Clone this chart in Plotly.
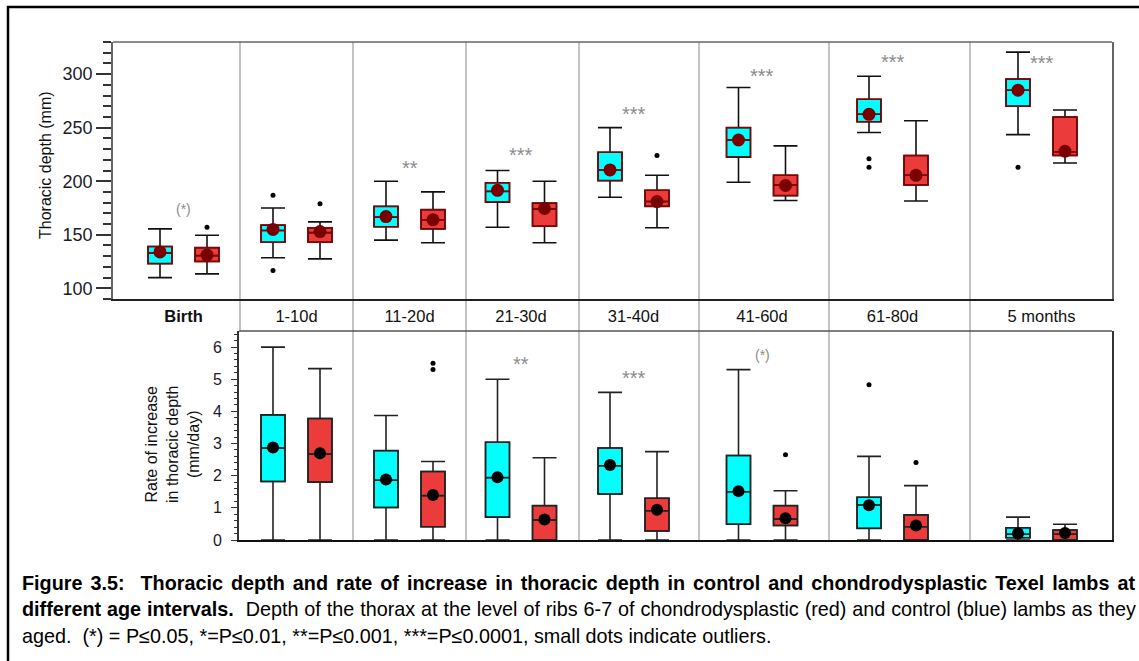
import plotly.graph_objects as go

# ---------------- data ----------------
categories = ["Birth", "1-10d", "11-20d", "21-30d", "31-40d", "41-60d", "61-80d", "5 months"]
rate_categories = categories[1:]

# Thoracic depth (mm) - control (cyan)
ctrl_depth_lo = [110, 128.5, 145, 157, 185, 199, 245.5, 243.5]
ctrl_depth_q1 = [123, 143, 157.5, 180.5, 200.5, 222.5, 255.5, 270]
ctrl_depth_med = [133, 154, 166.5, 190.5, 210.5, 238.5, 262.5, 285]
ctrl_depth_q3 = [139, 159, 176.5, 198.5, 227, 250, 276.5, 295.5]
ctrl_depth_hi = [155.5, 175, 200, 210, 250, 287.5, 298, 320.5]
ctrl_depth_mean = [134, 155, 167, 191.5, 210.5, 238.5, 262.5, 285]
ctrl_depth_out_cat = ["1-10d", "1-10d", "61-80d", "61-80d", "5 months"]
ctrl_depth_out_val = [187, 116.5, 221, 213, 213]

# Thoracic depth (mm) - chondrodysplastic (red)
chon_depth_lo = [113.5, 127.5, 142.5, 142.5, 156.5, 182, 181.5, 217]
chon_depth_q1 = [125, 143, 155.5, 158, 176.5, 186.5, 196.5, 224]
chon_depth_med = [130.5, 152, 164, 174, 181, 196.5, 205.5, 227.5]
chon_depth_q3 = [138, 156.5, 173.5, 179.5, 191.5, 205.5, 224, 260]
chon_depth_hi = [149.5, 162, 190, 200, 205.5, 233, 256.5, 266.5]
chon_depth_mean = [131, 153, 164, 174.5, 181, 196, 205.5, 228]
chon_depth_out_cat = ["Birth", "1-10d", "31-40d"]
chon_depth_out_val = [157, 179, 224]

# Rate of increase (mm/day) - control
ctrl_rate_lo = [0, 0, 0, 0, 0, 0, 0]
ctrl_rate_q1 = [1.82, 1.01, 0.71, 1.43, 0.49, 0.36, 0.07]
ctrl_rate_med = [2.86, 1.86, 1.94, 2.31, 1.50, 1.09, 0.18]
ctrl_rate_q3 = [3.89, 2.78, 3.04, 2.86, 2.63, 1.33, 0.38]
ctrl_rate_hi = [6.0, 3.87, 5.0, 4.59, 5.30, 2.60, 0.71]
ctrl_rate_mean = [2.88, 1.88, 1.95, 2.33, 1.52, 1.08, 0.20]
ctrl_rate_out_cat = ["61-80d"]
ctrl_rate_out_val = [4.83]

# Rate of increase (mm/day) - chondrodysplastic
chon_rate_lo = [0, 0, 0, 0, 0, 0, 0]
chon_rate_q1 = [1.80, 0.41, 0, 0.28, 0.45, 0, 0]
chon_rate_med = [2.67, 1.38, 0.62, 0.91, 0.65, 0.41, 0.18]
chon_rate_q3 = [3.78, 2.13, 1.07, 1.30, 1.07, 0.78, 0.31]
chon_rate_hi = [5.33, 2.44, 2.56, 2.75, 1.53, 1.69, 0.49]
chon_rate_mean = [2.70, 1.40, 0.64, 0.94, 0.68, 0.45, 0.22]
chon_rate_out_cat = ["11-20d", "11-20d", "41-60d", "61-80d"]
chon_rate_out_val = [5.50, 5.30, 2.65, 2.41]

# significance labels
depth_sig_cat = ["Birth", "11-20d", "21-30d", "31-40d", "41-60d", "61-80d", "5 months"]
depth_sig_txt = ["(*)", "**", "***", "***", "***", "***", "***"]
rate_sig_cat = ["21-30d", "31-40d", "41-60d"]
rate_sig_txt = ["**", "***", "(*)"]

# ---------------- layout helpers ----------------
W, H = 1139, 661
group_center = [183.5, 296.5, 409.5, 521, 633.5, 762, 892.5, 1041.5]
separators = [240, 353, 466, 579, 699, 829, 970]
pair_off = 23.5
box_w = 24
depth_sig_y = [174, 212, 224.5, 263, 298, 311, 310]
rate_sig_y = [5.46, 5.05, 5.76]

pos = dict(zip(categories, group_center))
def fx(p): return p / W
def fy(p): return 1 - p / H

CYAN = "#00FFFF"
RED = "#EC3B3B"
DARKRED = "#8B0000"
FONT = "Liberation Sans, Arial, sans-serif"
nb = "\u00a0"

fig = go.Figure()

def add_boxes(cats, lo, q1, med, q3, hi, fill, side, xa, ya, outline, whisk):
    xs = [pos[c] + side * pair_off for c in cats]
    fig.add_trace(go.Box(
        x=xs, q1=q1, median=med, q3=q3, lowerfence=lo, upperfence=hi,
        width=box_w, whiskerwidth=1, fillcolor=fill,
        line=dict(color=whisk, width=1.6), boxpoints=False,
        xaxis=xa, yaxis=ya, showlegend=False, hoverinfo="skip"))
    fig.add_trace(go.Box(
        x=xs, q1=q1, median=med, q3=q3, lowerfence=q1, upperfence=q3,
        width=box_w, whiskerwidth=1, fillcolor="rgba(0,0,0,0)",
        line=dict(color=outline, width=1.4), boxpoints=False,
        xaxis=xa, yaxis=ya, showlegend=False, hoverinfo="skip"))

def add_points(cats, vals, side, xa, ya, color, size):
    fig.add_trace(go.Scatter(
        x=[pos[c] + side * pair_off for c in cats], y=vals, mode="markers",
        marker=dict(color=color, size=size, line=dict(width=0)),
        xaxis=xa, yaxis=ya, showlegend=False, hoverinfo="skip", cliponaxis=False))

add_boxes(categories, ctrl_depth_lo, ctrl_depth_q1, ctrl_depth_med, ctrl_depth_q3, ctrl_depth_hi,
          CYAN, -1, "x", "y", DARKRED, "#111111")
add_boxes(categories, chon_depth_lo, chon_depth_q1, chon_depth_med, chon_depth_q3, chon_depth_hi,
          RED, 1, "x", "y", DARKRED, "#111111")
add_points(categories, ctrl_depth_mean, -1, "x", "y", "#7A0000", 13)
add_points(categories, chon_depth_mean, 1, "x", "y", "#7A0000", 13)
add_points(ctrl_depth_out_cat, ctrl_depth_out_val, -1, "x", "y", "#000000", 5)
add_points(chon_depth_out_cat, chon_depth_out_val, 1, "x", "y", "#000000", 5)

add_boxes(rate_categories, ctrl_rate_lo, ctrl_rate_q1, ctrl_rate_med, ctrl_rate_q3, ctrl_rate_hi,
          CYAN, -1, "x2", "y2", "#222222", "#222222")
add_boxes(rate_categories, chon_rate_lo, chon_rate_q1, chon_rate_med, chon_rate_q3, chon_rate_hi,
          RED, 1, "x2", "y2", "#222222", "#222222")
add_points(rate_categories, ctrl_rate_mean, -1, "x2", "y2", "#000000", 12)
add_points(rate_categories, chon_rate_mean, 1, "x2", "y2", "#000000", 12)
add_points(ctrl_rate_out_cat, ctrl_rate_out_val, -1, "x2", "y2", "#000000", 5)
add_points(chon_rate_out_cat, chon_rate_out_val, 1, "x2", "y2", "#000000", 5)

shapes = []
for i, s in enumerate(separators):
    shapes.append(dict(type="line", xref="x", yref="paper", x0=s, x1=s,
                       y0=fy(42), y1=fy(331 if i == 0 else 540),
                       line=dict(color="#B4B4B4", width=1.6), layer="below"))
shapes.append(dict(type="line", xref="paper", yref="paper", x0=fx(113), x1=fx(1112),
                   y0=fy(42), y1=fy(42), line=dict(color="#666666", width=1.6)))
shapes.append(dict(type="line", xref="paper", yref="paper", x0=fx(239), x1=fx(1112),
                   y0=fy(331), y1=fy(331), line=dict(color="#555555", width=1.6)))
shapes.append(dict(type="rect", xref="paper", yref="paper", x0=fx(8), x1=1.02,
                   y0=-0.02, y1=fy(7), line=dict(color="#000000", width=2.5)))

annotations = []
for c, t, yv in zip(depth_sig_cat, depth_sig_txt, depth_sig_y):
    annotations.append(dict(x=pos[c], y=yv, xref="x", yref="y", text=t, showarrow=False,
                            font=dict(family=FONT, size=14 if t == "(*)" else 20, color="#8C8C8C")))
for c, t, yv in zip(rate_sig_cat, rate_sig_txt, rate_sig_y):
    annotations.append(dict(x=pos[c], y=yv, xref="x2", yref="y2", text=t, showarrow=False,
                            font=dict(family=FONT, size=14 if t == "(*)" else 20, color="#8C8C8C")))

annotations.append(dict(x=fx(45), y=fy(165), xref="paper", yref="paper",
                        xanchor="center", yanchor="middle",
                        text="Thoracic depth (mm)", textangle=-90, showarrow=False,
                        font=dict(family=FONT, size=16, color="#111111")))
annotations.append(dict(x=fx(172), y=fy(445), xref="paper", yref="paper",
                        xanchor="center", yanchor="middle",
                        text="Rate of increase<br>in thoracic depth<br>(mm/day)", textangle=-90,
                        showarrow=False, font=dict(family=FONT, size=16, color="#111111")))

CAP_FONT = "Liberation Sans, Arial, sans-serif"
cap_lines = [
    '<span style="word-spacing:2.5px"><b>Figure 3.5:' + nb + nb + 'Thoracic depth and rate of increase in thoracic depth in control and chondrodysplastic Texel lambs at</b></span>',
    '<span style="word-spacing:0.4px"><b>different age intervals.</b>' + nb + nb + 'Depth of the thorax at the level of ribs 6-7 of chondrodysplastic (red) and control (blue) lambs as they</span>',
    "aged." + nb + nb + "(*) = P≤0.05, *=P≤0.01, **=P≤0.001, ***=P≤0.0001, small dots indicate outliers.",
]
for ln, yy in zip(cap_lines, [583, 609, 636]):
    annotations.append(dict(x=fx(20), y=fy(yy), xref="paper", yref="paper", text=ln,
                            xanchor="left", yanchor="middle", showarrow=False,
                            font=dict(family=CAP_FONT, size=19.8, color="#000000")))

fig.update_layout(
    width=W, height=H, margin=dict(l=0, r=0, t=0, b=0),
    paper_bgcolor="white", plot_bgcolor="white", template="none",
    boxmode="overlay", showlegend=False,
    shapes=shapes, annotations=annotations,
    xaxis=dict(domain=[fx(113), fx(1112)], range=[113, 1112], tickvals=group_center,
               ticktext=["<b>Birth</b>"] + categories[1:], ticks="outside", ticklen=1,
               tickcolor="rgba(0,0,0,0)", showgrid=False, zeroline=False,
               showline=True, linecolor="#222222", linewidth=2, automargin=False,
               tickfont=dict(family=FONT, size=16.5, color="#111111"), anchor="y"),
    yaxis=dict(domain=[fy(299), fy(42)], range=[90, 330], tickvals=[100, 150, 200, 250, 300],
               ticktext=["100", "150", "200", "250", "300"], ticksuffix=nb + nb + nb,
               ticks="outside", ticklen=15, tickwidth=1.6, tickcolor="#333333",
               minor=dict(dtick=10, tick0=0, ticks="outside", ticklen=8, tickwidth=1.6,
                          tickcolor="#333333", showgrid=False),
               showgrid=False, zeroline=False, showline=True, linecolor="#666666",
               linewidth=1.6, mirror=True, automargin=False,
               tickfont=dict(family=FONT, size=18, color="#1A1A2A"), anchor="x"),
    xaxis2=dict(domain=[fx(239), fx(1112)], range=[239, 1112], showticklabels=False,
                ticks="", showgrid=False, zeroline=False, showline=True,
                linecolor="#111111", linewidth=2.2, automargin=False, anchor="y2"),
    yaxis2=dict(domain=[fy(540), fy(331)], range=[0, 6.5], tickvals=[0, 1, 2, 3, 4, 5, 6],
                ticks="outside", ticklen=6, tickwidth=1.4, tickcolor="#333333",
                minor=dict(dtick=0.2, tick0=0, ticks="outside", ticklen=3, tickwidth=1,
                           tickcolor="#333333", showgrid=False),
                showgrid=False, zeroline=False, showline=True, linecolor="#333333",
                linewidth=1.6, mirror=True, automargin=False, ticklabelstandoff=6,
                tickfont=dict(family=FONT, size=16, color="#1A1A2A"), anchor="x2"),
)

fig.write_html("out.html")
